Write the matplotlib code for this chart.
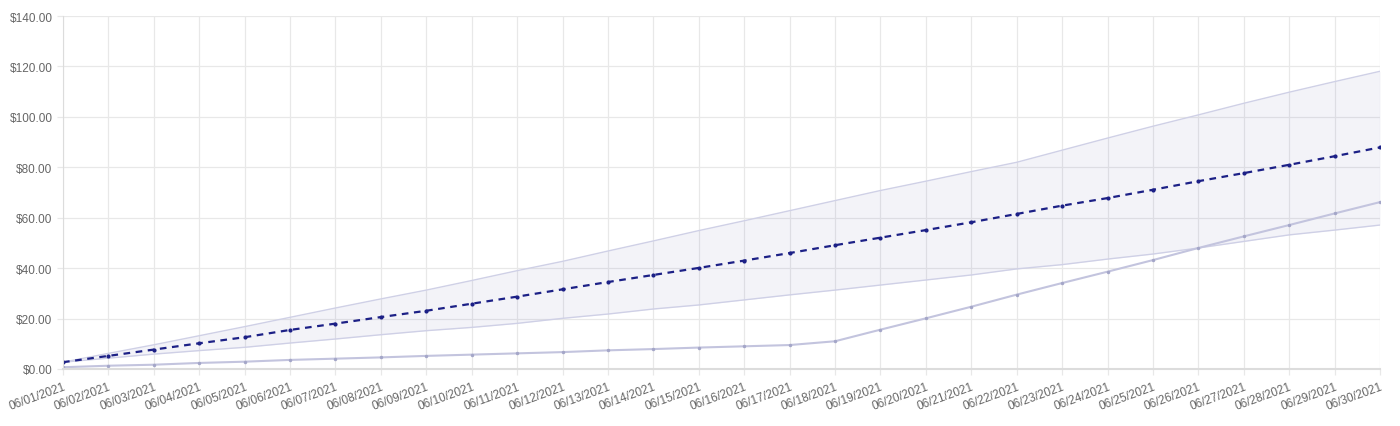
import numpy as np
import matplotlib.pyplot as plt
from matplotlib.ticker import FuncFormatter

plt.rcParams['font.family'] = ['Liberation Sans', 'DejaVu Sans']

# --- Données ---
dates = [f"06/{d:02d}/2021" for d in range(1, 31)]

forecast = [2.7, 5.2, 7.7, 10.2, 12.6, 15.5, 18.0, 20.6, 23.1, 25.9,
            28.7, 31.6, 34.5, 37.3, 40.1, 43.0, 46.0, 49.1, 52.1, 55.1,
            58.2, 61.5, 64.8, 67.8, 71.1, 74.5, 77.7, 81.0, 84.4, 87.9]
upper = [2.7, 6.2, 9.6, 13.2, 16.8, 20.5, 24.2, 27.8, 31.3, 35.1,
         39.0, 42.7, 46.8, 50.8, 54.9, 58.8, 62.8, 66.8, 70.8, 74.5,
         78.3, 82.0, 86.8, 91.6, 96.3, 100.8, 105.4, 109.8, 114.0, 118.1]
lower = [2.7, 4.3, 5.9, 7.3, 8.6, 10.3, 11.9, 13.6, 15.2, 16.5,
         18.1, 20.1, 21.8, 23.8, 25.4, 27.4, 29.4, 31.3, 33.3, 35.3,
         37.3, 39.7, 41.4, 43.6, 45.6, 48.0, 50.6, 53.2, 55.1, 57.1]
actual = [0.7, 1.3, 1.7, 2.4, 2.9, 3.6, 4.1, 4.6, 5.2, 5.7,
          6.2, 6.7, 7.4, 7.9, 8.5, 9.0, 9.5, 11.0, 15.6, 20.1,
          24.7, 29.5, 34.1, 38.6, 43.2, 48.0, 52.6, 57.1, 61.7, 66.2]

x = np.arange(len(dates))

fig = plt.figure(figsize=(14, 4.27), dpi=100)
ax = fig.add_axes([0.045, 0.1335, 0.9407, 0.8265])

# --- Bande de confiance ---
ax.fill_between(x, lower, upper, color='#2a2f8f', alpha=0.055, linewidth=0)
ax.plot(x, upper, color='#cfd0e6', linewidth=1)
ax.plot(x, lower, color='#cfd0e6', linewidth=1)

# --- Valeurs réelles ---
ax.plot(x, actual, color='#c3c4de', linewidth=1.5, marker='o', markersize=2.5,
        markerfacecolor='#a4a6c8', markeredgewidth=0)

# --- Prévision (pointillés) ---
ax.plot(x, forecast, color='#1c2086', linewidth=1.6, linestyle=(0, (3, 2.5)),
        marker='o', markersize=3, markeredgewidth=0)

# --- Axes et grille ---
ax.set_xlim(0, len(dates) - 1)
ax.set_ylim(0, 140)
ax.set_yticks(np.arange(0, 141, 20))
ax.yaxis.set_major_formatter(FuncFormatter(lambda v, p: f"${v:.2f}"))
ax.set_xticks(x)
ax.set_xticklabels(dates, rotation=20, ha='right', rotation_mode='anchor')

ax.grid(True, color='#e8e8e8', linewidth=0.9)
ax.set_axisbelow(True)
for name, spine in ax.spines.items():
    spine.set_visible(name in ('left', 'bottom'))
    spine.set_color('#dcdcdc')
ax.spines['bottom'].set_linewidth(1.5)
ax.tick_params(axis='both', colors='#e8e8e8', labelcolor='#666666',
               labelsize=8.5, length=4, width=0.9)
ax.tick_params(axis='x', pad=4)

plt.savefig('out.png', dpi=100)
